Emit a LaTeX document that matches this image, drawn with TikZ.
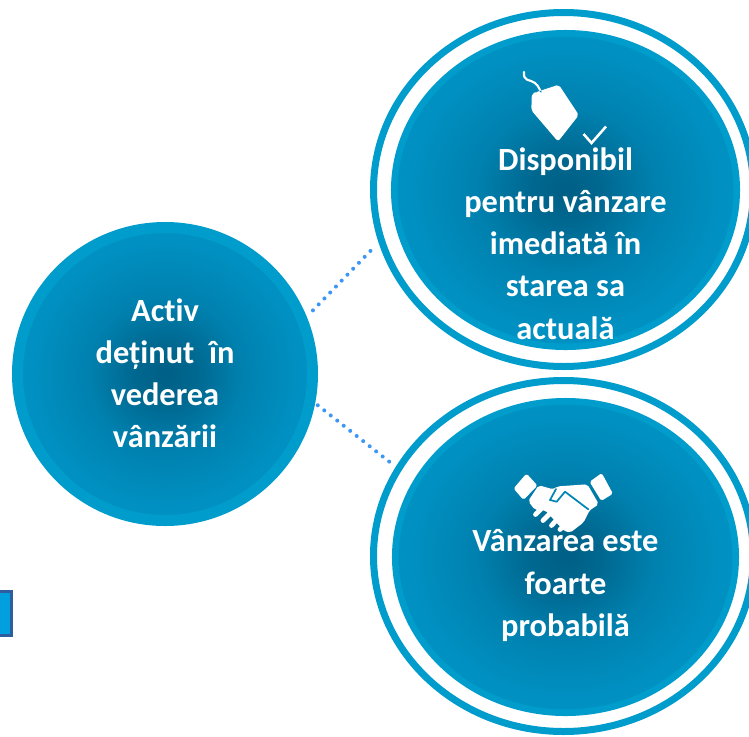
\documentclass[tikz,border=0pt]{standalone}
\usepackage{fontspec}
\setmainfont{Carlito}[Ligatures=NoCommon]
\usetikzlibrary{shapes.geometric}
\definecolor{ringblue}{HTML}{009CCB}
\definecolor{bandblue}{HTML}{009CCB}
\definecolor{discedge}{HTML}{0097CA}
\definecolor{disccore}{HTML}{005F85}
\definecolor{dotblue}{HTML}{3C96F5}
\definecolor{boxfill}{HTML}{00A0DE}
\definecolor{boxedge}{HTML}{2F5D9E}
\pgfdeclareradialshading{discshade}{\pgfpoint{0bp}{0bp}}{
  color(0bp)=(disccore);
  color(5bp)=(disccore!85!discedge);
  color(13bp)=(disccore!40!discedge);
  color(22bp)=(disccore!14!discedge);
  color(31bp)=(discedge);
  color(50bp)=(discedge)}
\tikzset{
  x=0.75pt,y=-0.75pt,
  disc/.style={ellipse,inner sep=0pt,draw=bandblue,shading=discshade},
  ringshape/.style={ellipse,inner sep=0pt,draw=ringblue,fill=white,line width=5.25pt},
  disctext/.style={align=center,text=white,font=\fontsize{24.3pt}{31.6pt}\selectfont\bfseries},
  dotconn/.style={draw=dotblue,line width=3pt,line cap=round,dash pattern=on 0pt off 6.2pt},
  iconfill/.style={fill=white,draw=white,line join=round},
  iconline/.style={draw=white,line cap=round,line join=round,fill=none},
  iconcut/.style={draw=discedge!70!disccore,line cap=round,line join=round,fill=none,line width=1.3pt},
}
\begin{document}
\begin{tikzpicture}
\useasboundingbox (0,0) rectangle (749,736);
\clip (0,0) rectangle (749,736);
% small box at the left edge
\node[draw=boxedge,fill=boxfill,line width=1.9pt,inner sep=0pt,minimum width=30*0.75pt,minimum height=44.5*0.75pt] (sidebox) at (-3.3,613.5) {};
% discs
\node[disc,line width=8.25pt,minimum width=295*0.75pt,minimum height=293*0.75pt] (assetdisc) at (165,374) {};
\node[ringshape,minimum width=380*0.75pt,minimum height=354*0.75pt] (topring) at (563.5,189.5) {};
\node[disc,line width=4.9pt,minimum width=342.5*0.75pt,minimum height=313.5*0.75pt] (topdisc) at (565.5,190) {};
\node[ringshape,minimum width=380*0.75pt,minimum height=351*0.75pt] (botring) at (563.5,556) {};
\node[disc,line width=4.9pt,minimum width=340.5*0.75pt,minimum height=311.5*0.75pt] (botdisc) at (565.5,557) {};
% dotted connectors
\draw[dotconn,shorten <=6.7pt,shorten >=8.5pt] (assetdisc.22.2) -- (topring.196.5);
\draw[dotconn,shorten <=2.5pt,shorten >=5.6pt] (assetdisc.-11.8) -- (botring.152);
% tag icon
\path[iconfill,line width=1pt,rounded corners=1.5pt] (532.5,94) -- (558.5,85.5) -- (578,115) -- (558,140.5) -- (532,110) -- cycle;
\draw[iconcut,line width=0.9pt] (536,92) arc[start angle=190,end angle=350,x radius=2.6,y radius=3];
\draw[iconline,line width=1.6pt] (524,72) .. controls (523,82) and (530,79) .. (535,83) .. controls (537,85) and (539,87) .. (540,90);
\draw[iconline,line width=1.9pt,line cap=butt,line join=miter] (583.5,134) -- (591.5,143) -- (606,126.5);
% handshake icon
\path[iconfill,line width=1pt,rounded corners=1pt] (514.5,488.5) -- (526.5,474.5) -- (536.5,485.5) -- (523.5,499) -- cycle;
\path[iconfill,line width=1pt,rounded corners=1pt] (590.5,482) -- (601.5,474) -- (612,493.5) -- (601.5,500) -- cycle;
\path[iconfill,line width=1pt,rounded corners=1.5pt] (529,501) -- (539,486) -- (553,490) -- (558,487) -- (587,485) -- (598,504) -- (589,510) -- (583,522) -- (570,532) -- (564,530) -- (546,510) -- (535,509) -- cycle;
\draw[iconcut] (556,489) -- (550,500) -- (556.7,501.7) -- (565,491.7) -- (588.3,509.3);
\draw[iconline,line width=3.6pt] (535.5,514.5) -- (543,507);
\draw[iconline,line width=3.6pt] (543,520.5) -- (551,512.5);
\draw[iconline,line width=3.6pt] (551.5,525.5) -- (558,518.5);
\draw[iconline,line width=3.6pt] (560,529.5) -- (566,524);
% labels
\node[disctext] (assettext) at (165,373.5) {Activ\\deținut\ \ în\\vederea\\vânzării};
\node[disctext] (toptext) at (565.5,243.5) {Disponibil\\pentru vânzare\\imediată în\\starea sa\\actuală};
\node[disctext] (bottext) at (565.5,585.5) {Vânzarea este\\foarte\\probabilă};
\end{tikzpicture}
\end{document}
